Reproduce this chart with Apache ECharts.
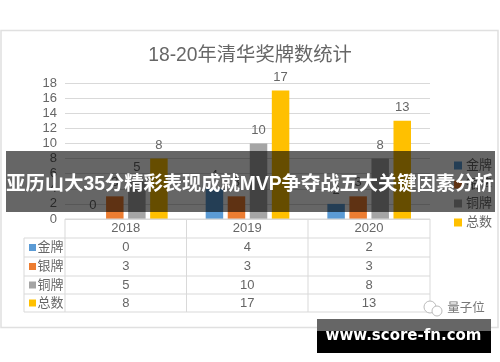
<!DOCTYPE html>
<html>
<head>
<meta charset="utf-8">
<style>
html, body { margin: 0; padding: 0; background: #fff; }
#main { width: 500px; height: 362px; }
</style>
<script src="https://cdn.jsdelivr.net/npm/echarts@6/dist/echarts.min.js"></script>
</head>
<body>
<div id="main"></div>
<script>
const years = ['2018', '2019', '2020'];
const gold = [0, 4, 2];
const silver = [3, 3, 3];
const bronze = [5, 10, 8];
const total = [8, 17, 13];
const seriesNames = ['金牌', '银牌', '铜牌', '总数'];
const seriesColors = ['#5b9bd5', '#ed7d31', '#a5a5a5', '#ffc000'];
const seriesValues = [gold, silver, bronze, total];

const fontName = '"Liberation Sans", "Noto Sans CJK SC", sans-serif';
const textColor = '#666666';
const lineColor = '#d9d9d9';

let myChart = echarts.init(document.getElementById('main'), null, { renderer: 'canvas' });

// 数据表
const colX = [65, 186.5, 308, 430];
const rowY = [219, 238, 257, 276, 294, 312];
const tableLeft = 24;

function hline(x1, x2, y) {
    return { type: 'line', shape: { x1: x1, y1: y, x2: x2, y2: y }, style: { stroke: lineColor, lineWidth: 1 }, z: 5 };
}
function vline(x, y1, y2) {
    return { type: 'line', shape: { x1: x, y1: y1, x2: x, y2: y2 }, style: { stroke: lineColor, lineWidth: 1 }, z: 5 };
}
function cellText(x, y, text, size) {
    return {
        type: 'text', x: x, y: y, z: 6,
        style: { text: text, fill: textColor, font: (size || 13) + 'px ' + fontName, textAlign: 'center', textVerticalAlign: 'middle' }
    };
}

let tableParts = [];
tableParts.push(hline(colX[0], colX[3], rowY[0]));
rowY.slice(1).forEach(y => tableParts.push(hline(tableLeft, colX[3], y)));
colX.forEach(x => tableParts.push(vline(x, rowY[0], rowY[5])));
tableParts.push(vline(tableLeft, rowY[1], rowY[5]));
years.forEach((year, i) => {
    let cx = (colX[i] + colX[i + 1]) / 2;
    tableParts.push(cellText(cx, (rowY[0] + rowY[1]) / 2, year));
    seriesValues.forEach((vals, j) => {
        tableParts.push(cellText(cx, (rowY[j + 1] + rowY[j + 2]) / 2, String(vals[i])));
    });
});
seriesNames.forEach((name, j) => {
    let cy = (rowY[j + 1] + rowY[j + 2]) / 2;
    tableParts.push({ type: 'rect', shape: { x: 29, y: cy - 3.5, width: 7, height: 7 }, style: { fill: seriesColors[j] }, z: 6 });
    tableParts.push(cellText(50.5, cy, name));
});

let option = {
    animation: false,
    backgroundColor: '#fff',
    title: {
        text: '18-20年清华奖牌数统计',
        left: 'center',
        top: 41,
        textStyle: { color: textColor, fontSize: 19.3, fontWeight: 'normal', fontFamily: fontName }
    },
    legend: {
        orient: 'vertical',
        left: 449,
        top: 154,
        itemWidth: 8,
        itemHeight: 8,
        itemGap: 6,
        icon: 'rect',
        textStyle: { color: textColor, fontSize: 13, fontFamily: fontName, padding: [0, 0, 0, -1] },
        data: seriesNames
    },
    grid: { left: 65, right: 70, top: 83, height: 136 },
    xAxis: [{
        type: 'category',
        data: years,
        axisLine: { show: false },
        axisTick: { show: false },
        axisLabel: { show: false }
    }],
    yAxis: [{
        type: 'value',
        min: 0,
        max: 18,
        interval: 2,
        axisLine: { show: false },
        axisTick: { show: false },
        axisLabel: { color: textColor, fontSize: 13, fontFamily: fontName, margin: 8 },
        splitLine: { lineStyle: { color: lineColor, width: 1 } }
    }],
    series: seriesNames.map((name, i) => ({
        name: name,
        type: 'bar',
        barWidth: 17.5,
        barGap: '26%',
        itemStyle: { color: seriesColors[i] },
        label: { show: true, position: 'top', distance: 7, color: textColor, fontSize: 13, fontFamily: fontName },
        data: seriesValues[i]
    })),
    graphic: { elements: tableParts.concat([
        // 外框
        { type: 'rect', shape: { x: 1, y: 30.5, width: 497, height: 297 }, style: { fill: 'none', stroke: '#e0e0e0', lineWidth: 1.5 }, z: 4 },
        // 水印
        { type: 'circle', shape: { cx: 430, cy: 307, r: 6 }, style: { fill: '#fff', stroke: '#bbb', lineWidth: 1 }, z: 7 },
        { type: 'circle', shape: { cx: 437, cy: 311, r: 5 }, style: { fill: '#fff', stroke: '#bbb', lineWidth: 1 }, z: 7 },
        { type: 'text', x: 466, y: 309, z: 7, style: { text: '量子位', fill: '#777', font: '12.5px ' + fontName, textAlign: 'center', textVerticalAlign: 'middle' } },
        // 标题遮罩
        { type: 'rect', shape: { x: 6, y: 151, width: 489, height: 61 }, style: { fill: 'rgba(0,0,0,0.6)' }, z: 50 },
        { type: 'text', x: 250, y: 185, z: 51, style: { text: '亚历山大35分精彩表现成就MVP争夺战五大关键因素分析', fill: '#fff', font: 'bold 19.3px ' + fontName, textAlign: 'center', textVerticalAlign: 'middle' } },
        // 网址
        { type: 'rect', shape: { x: 317, y: 319, width: 174, height: 12 }, style: { fill: '#666' }, z: 50 },
        { type: 'rect', shape: { x: 317, y: 331, width: 174, height: 22 }, style: { fill: '#000' }, z: 50 },
        { type: 'text', x: 403.5, y: 336.5, z: 51, style: { text: 'www.score-fn.com', fill: '#fff', font: 'bold 15px "DejaVu Sans", sans-serif', textAlign: 'center', textVerticalAlign: 'middle' } }
    ]) }
};

myChart.setOption(option);
</script>
</body>
</html>
